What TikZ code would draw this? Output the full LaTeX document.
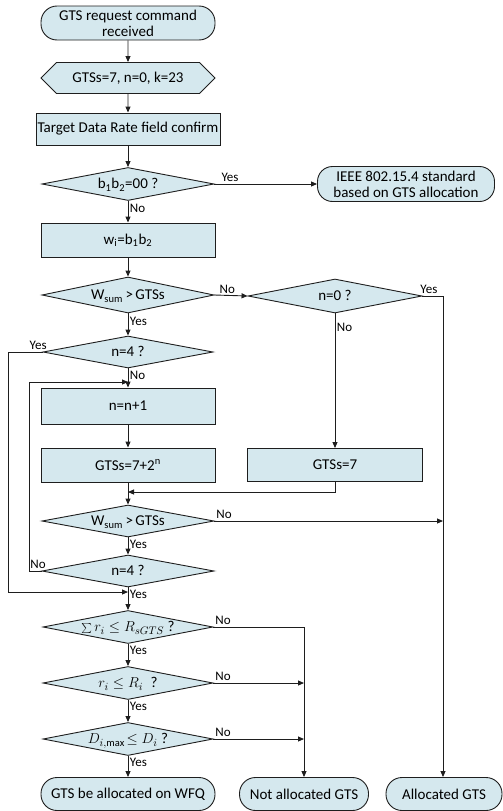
\documentclass[tikz,border=0pt]{standalone}
\usepackage{fontspec}
\setmainfont{Carlito}
\usetikzlibrary{shapes.geometric,shapes.symbols,arrows.meta}
\definecolor{fillc}{RGB}{213,232,238}
\definecolor{linec}{RGB}{30,30,30}
\newcommand{\dtxt}[1]{\raisebox{-0.33em}[0pt][0pt]{\makebox[0pt]{#1}}}
\begin{document}
\begin{tikzpicture}[x=1pt,y=-1pt,
  every node/.style={font=\fontsize{15}{16}\selectfont, text=black},
  base/.style={draw=linec, line width=0.9pt, fill=fillc, inner sep=1pt, align=center},
  term/.style={base, rectangle, rounded corners=16pt, minimum height=34pt},
  proc/.style={base, rectangle, minimum width=174pt, minimum height=34pt},
  dec/.style={base, diamond, minimum width=172pt, minimum height=33pt, inner sep=0pt},
  hexa/.style={base, signal, signal to=west and east, minimum width=174pt, minimum height=31pt},
  arr/.style={draw=linec, line width=0.9pt, -{Triangle[length=6pt,width=5pt]}},
  ln/.style={draw=linec, line width=0.9pt},
  lab/.style={font=\fontsize{13}{14}\selectfont, inner sep=1.5pt}]
\useasboundingbox (0,0) rectangle (503,811);
\node[term, minimum width=174pt] (start) at (128,23) {GTS request command\\received};
\node[hexa] (init) at (128,78) {GTSs=7, n=0, k=23};
\node[proc, minimum width=184pt, minimum height=32pt] (target) at (128,129) {Target Data Rate field confirm};
\node[dec] (d1) at (128,184) {\dtxt{b\textsubscript{1}b\textsubscript{2}=00 ?}};
\node[term, minimum width=177pt, minimum height=35pt, rounded corners=15pt] (ieee) at (406,184) {IEEE 802.15.4 standard\\based on GTS allocation};
\node[proc] (wi) at (128,240) {w\textsubscript{i}=b\textsubscript{1}b\textsubscript{2}};
\node[dec, minimum height=36pt] (d2) at (128,295) {\dtxt{W\textsubscript{sum}\,>\,GTSs}};
\node[dec, minimum width=174pt, minimum height=34pt] (d3) at (335,296) {\dtxt{n=0 ?}};
\node[dec, minimum width=170pt, minimum height=32pt] (d4) at (128,352) {\dtxt{n=4 ?}};
\node[proc, minimum height=36pt] (inc) at (128,406) {n=n+1};
\node[proc] (pow) at (128,465) {GTSs=7+2\textsuperscript{n}};
\node[proc, minimum width=175pt, minimum height=33pt] (g7) at (335,465) {GTSs=7};
\node[dec, minimum height=32pt] (d5) at (128,521) {\dtxt{W\textsubscript{sum}\,>\,GTSs}};
\node[dec, minimum height=32pt] (d6) at (128,571) {\dtxt{n=4 ?}};
\node[dec, minimum width=170pt] (d7) at (128,627) {\dtxt{$\sum r_i \le R_{sGTS}$ ?}};
\node[dec, minimum width=170pt] (d8) at (128,683) {\dtxt{$r_i \le R_i$\; ?}};
\node[dec, minimum width=170pt] (d9) at (128,739) {\dtxt{$D_{i,\max}\!\le D_i$ ?}};
\node[term, minimum width=174pt, minimum height=33pt] (wfq) at (128,794) {GTS be allocated on WFQ};
\node[term, minimum width=129pt, minimum height=33pt] (notal) at (304,794) {Not allocated GTS};
\node[term, minimum width=116pt, minimum height=33pt] (alloc) at (444,794) {Allocated GTS};
% junction coordinates
\coordinate (merge) at (128,492);
\coordinate (loop) at (128,382);
\coordinate (join) at (128,592);
\coordinate (rr) at (443,296);
\coordinate (nn) at (304,627);
% connectors
\draw[arr] (start) -- (init);
\draw[arr] (init) -- (target);
\draw[arr] (target) -- (d1);
\draw[arr] (d1.east) -- node[lab, pos=0.05, above right] {Yes} (ieee.west);
\draw[arr] (d1.south) -- node[lab, pos=0.35, right] {No} (wi.north);
\draw[arr] (wi) -- (d2);
\draw[arr] (d2.east) -- node[lab, pos=0.1, above right] {No} (d3.west);
\draw[arr] (d2.south) -- node[lab, pos=0.35, right] {Yes} (d4.north);
\draw[arr] (d4.south) -- node[lab, pos=0.35, right] {No} (inc.north);
\draw[arr] (inc) -- (pow);
\draw[arr] (pow) -- (d5);
\draw[arr] (d3.south) -- node[lab, pos=0.1, right] {No} (g7.north);
\draw[arr] (g7.south) |- (merge);
\draw[ln] (d3.east) node[lab, above right, xshift=-4pt] {Yes} -- (rr);
\draw[arr] (rr) -- (rr |- alloc.north);
\draw[arr] (d5.east) node[lab, above right] {No} -- (d5.east -| rr);
\draw[arr] (d5.south) -- node[lab, pos=0.4, right] {Yes} (d6.north);
\draw[arr] (d6.west) node[lab, above left, xshift=6pt] {No} -- (29,571) |- (loop);
\draw[arr] (d4.west) node[lab, above left, xshift=6pt] {Yes} -- (8,352) |- (join);
\draw[arr] (d6.south) -- node[lab, pos=0.3, right] {Yes} (d7.north);
\draw[arr] (d7.south) -- node[lab, pos=0.3, right] {Yes} (d8.north);
\draw[arr] (d8.south) -- node[lab, pos=0.3, right] {Yes} (d9.north);
\draw[arr] (d9.south) -- node[lab, pos=0.3, right] {Yes} (wfq.north);
\draw[ln] (d7.east) node[lab, above right] {No} -- (nn);
\draw[arr] (nn) -- (nn |- notal.north);
\draw[arr] (d8.east) node[lab, above right] {No} -- (d8.east -| nn);
\draw[arr] (d9.east) node[lab, above right] {No} -- (d9.east -| nn);
\end{tikzpicture}
\end{document}
